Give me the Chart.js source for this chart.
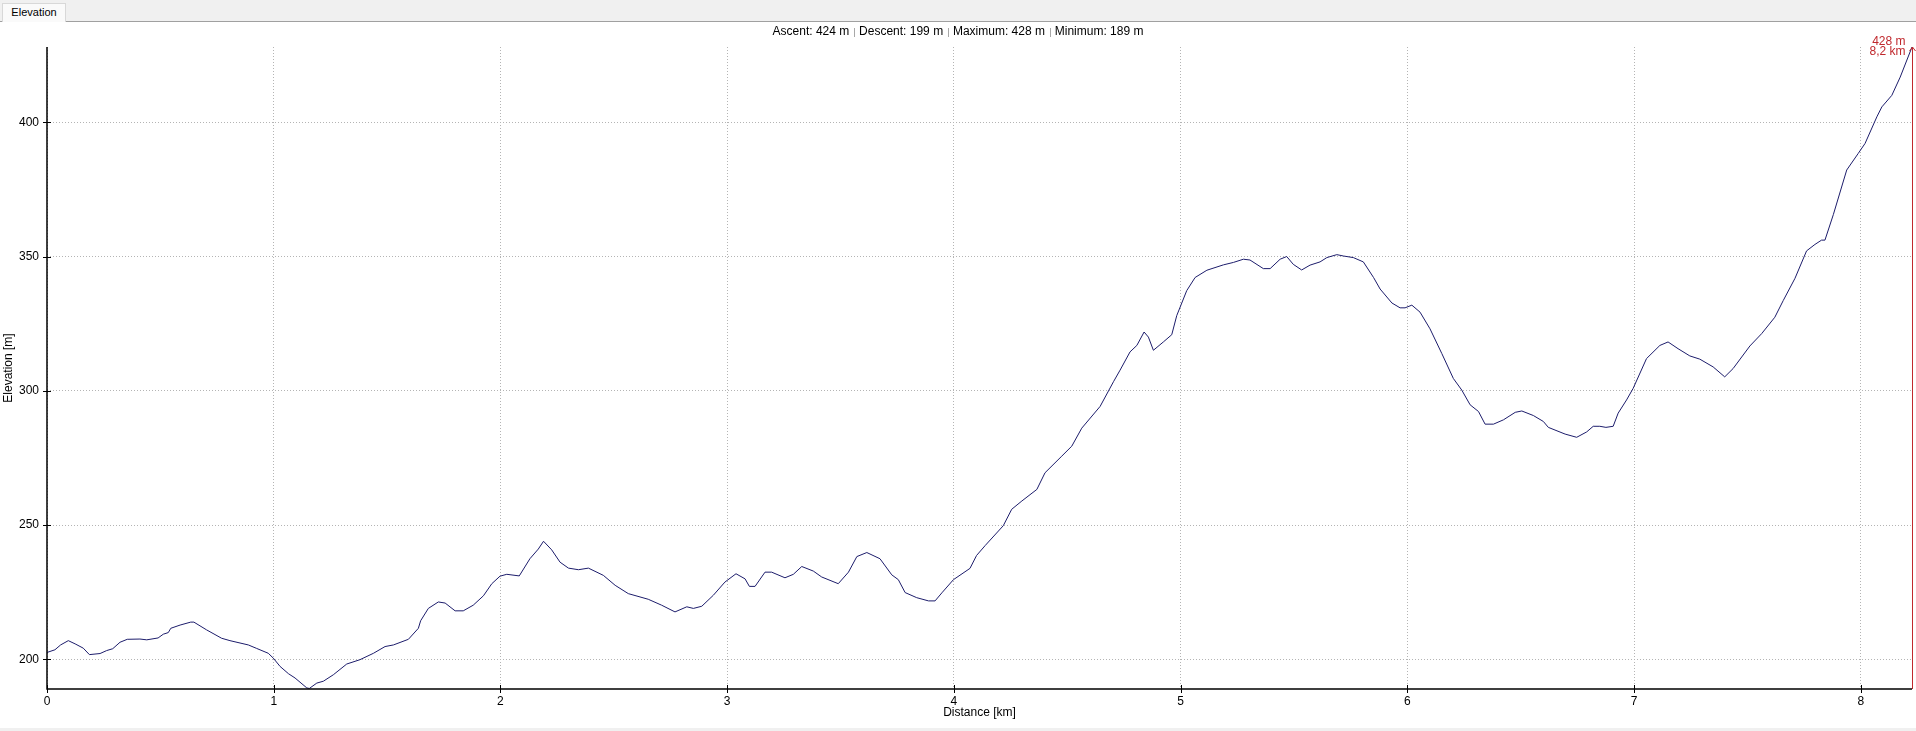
<!DOCTYPE html>
<html>
<head>
<meta charset="utf-8">
<script src="https://cdn.jsdelivr.net/npm/chart.js@4/dist/chart.umd.min.js"></script>
<style>
  html, body { margin: 0; padding: 0; background: #fff; }
  body { width: 1916px; height: 731px; position: relative; overflow: hidden; font-family: "Liberation Sans", Arial, sans-serif; }
  #tabbar { position: absolute; left: 0; top: 0; width: 1916px; height: 21px; background: #f0f0f0; border-bottom: 1px solid #a0a0a0; }
  #tab { position: absolute; left: 2px; top: 3px; width: 64px; height: 19px; background: #fafafa; border: 1px solid #d8d8d8; border-bottom: none; box-sizing: border-box; font-size: 11px; line-height: 17px; text-align: center; color: #000; }
  #wrap { position: absolute; left: 0; top: 22px; width: 1916px; height: 706px; }
  #bottombar { position: absolute; left: 0; top: 728px; width: 1916px; height: 3px; background: #f0f0f0; }
</style>
</head>
<body>
<div id="tabbar"><div id="tab">Elevation</div></div>
<div id="wrap"><canvas id="c"></canvas></div>
<div id="bottombar"></div>
<script>
// ---- data ----
const distanceKm = [
  0.000,0.035,0.060,0.094,0.124,0.160,0.187,0.234,0.263,0.290,0.322,0.354,0.410,0.440,0.490,0.513,0.535,0.546,0.587,0.634,
  0.648,0.704,0.770,0.807,0.888,0.925,0.976,0.998,1.028,1.065,1.094,1.146,1.157,1.190,1.219,1.263,1.322,1.380,1.440,1.491,
  1.528,1.594,1.638,1.648,1.682,1.726,1.756,1.800,1.836,1.880,1.925,1.962,1.998,2.028,2.083,2.130,2.167,2.190,2.226,2.263,
  2.300,2.344,2.388,2.454,2.506,2.564,2.652,2.711,2.770,2.822,2.851,2.888,2.939,2.990,3.039,3.079,3.098,3.123,3.167,3.196,
  3.255,3.292,3.329,3.380,3.417,3.490,3.535,3.572,3.616,3.674,3.726,3.755,3.785,3.836,3.888,3.917,3.947,3.998,4.071,4.100,
  4.138,4.218,4.255,4.300,4.366,4.402,4.476,4.520,4.564,4.645,4.704,4.733,4.777,4.807,4.839,4.858,4.880,4.924,4.961,4.983,
  5.027,5.064,5.116,5.189,5.233,5.277,5.306,5.365,5.395,5.439,5.468,5.497,5.534,5.571,5.615,5.645,5.689,5.718,5.762,5.806,
  5.851,5.880,5.932,5.968,5.990,6.020,6.056,6.100,6.152,6.203,6.240,6.277,6.314,6.343,6.380,6.424,6.476,6.505,6.556,6.600,
  6.622,6.696,6.747,6.791,6.820,6.849,6.876,6.908,6.930,6.967,6.996,7.055,7.114,7.150,7.194,7.246,7.290,7.349,7.400,7.437,
  7.511,7.563,7.621,7.658,7.710,7.761,7.798,7.827,7.842,7.879,7.938,7.989,8.019,8.071,8.093,8.137,8.174,8.226
];
const elevationM = [
  202.6,203.6,205.4,207.0,205.8,204.2,201.8,202.2,203.3,204.0,206.4,207.5,207.6,207.3,208.0,209.4,210.0,211.6,212.8,213.9,
  213.9,211.0,207.9,207.0,205.4,204.1,202.3,200.5,197.4,194.7,193.1,189.4,189.2,191.2,191.9,194.3,198.3,199.9,202.3,204.8,
  205.4,207.5,211.6,214.4,219.0,221.4,221.0,218.1,218.1,220.2,223.7,228.2,231.0,231.7,231.1,237.5,241.1,244.0,240.8,236.2,
  234.0,233.4,234.0,231.3,227.6,224.5,222.4,220.2,217.7,219.6,219.0,219.8,223.9,228.8,231.9,230.0,227.2,227.2,232.5,232.5,
  230.4,231.7,234.6,232.9,230.7,228.2,232.5,238.3,239.8,237.5,231.5,229.7,224.9,223.0,221.8,221.8,224.8,229.7,233.9,238.7,
  242.4,249.8,255.9,259.0,263.3,269.5,275.7,279.4,286.1,294.2,303.4,307.7,314.5,316.9,321.9,320.0,315.1,318.2,320.9,328.0,
  337.3,342.2,344.9,346.9,347.8,349.0,348.7,345.5,345.5,349.0,350.0,347.1,345.0,346.8,348.0,349.6,350.7,350.2,349.6,348.0,
  342.2,337.9,332.7,330.9,330.9,331.9,329.3,323.1,313.9,304.6,300.3,294.8,292.3,287.6,287.6,289.2,292.0,292.5,290.8,288.6,
  286.4,283.9,282.7,284.7,286.8,286.8,286.4,286.8,291.7,296.6,300.9,312.0,316.9,318.2,315.7,313.0,311.8,308.9,305.2,308.3,
  316.7,321.3,327.4,333.6,341.9,352.1,354.5,356.1,356.1,365.6,382.2,388.4,392.1,402.0,405.7,410.0,416.8,428.0
];
const xTickValues = [0, 1, 2, 3, 4, 5, 6, 7, 8];
const yTickValues = [200, 250, 300, 350, 400];
const yRange = [189, 428];
const statsLabels = ['Ascent: 424 m', 'Descent: 199 m', 'Maximum: 428 m', 'Minimum: 189 m'];
const xTitle = 'Distance [km]';
const yTitle = 'Elevation [m]';

// ---- chart ----
const FONT = '"Liberation Sans", Arial, sans-serif';
const points = distanceKm.map((d, i) => ({ x: d, y: elevationM[i] }));
const lastIdx = distanceKm.length - 1;

const statsPlugin = {
  id: 'stats',
  afterDraw(chart) {
    const ctx = chart.ctx;
    ctx.save();
    ctx.font = '12px ' + FONT;
    ctx.textBaseline = 'middle';
    const sep = ' | ';
    let total = 0;
    statsLabels.forEach((s, i) => { total += ctx.measureText(s).width; if (i < statsLabels.length - 1) total += ctx.measureText(sep).width; });
    let x = chart.width / 2 - total / 2;
    const y = 10;
    statsLabels.forEach((s, i) => {
      ctx.fillStyle = '#000';
      ctx.fillText(s, x, y);
      x += ctx.measureText(s).width;
      if (i < statsLabels.length - 1) {
        const w = ctx.measureText(sep).width;
        ctx.strokeStyle = '#a8a8a8';
        ctx.lineWidth = 1;
        ctx.beginPath();
        ctx.moveTo(Math.round(x + w / 2) + 0.5, y - 4);
        ctx.lineTo(Math.round(x + w / 2) + 0.5, y + 5);
        ctx.stroke();
        x += w;
      }
    });
    ctx.restore();
  }
};

const markerPlugin = {
  id: 'marker',
  afterDatasetsDraw(chart) {
    const ctx = chart.ctx;
    const xs = chart.scales.x, ys = chart.scales.y;
    const px = Math.round(xs.getPixelForValue(distanceKm[lastIdx])) + 0.5;
    const py = ys.getPixelForValue(elevationM[lastIdx]);
    const bottom = chart.chartArea.bottom;
    ctx.save();
    ctx.strokeStyle = '#c0282d';
    ctx.lineWidth = 1;
    ctx.beginPath();
    ctx.moveTo(px, py);
    ctx.lineTo(px, bottom);
    ctx.moveTo(px - 3, py + 4);
    ctx.lineTo(px, py);
    ctx.lineTo(px + 3, py + 4);
    ctx.stroke();
    ctx.fillStyle = '#c0282d';
    ctx.font = '12px ' + FONT;
    ctx.textAlign = 'right';
    ctx.textBaseline = 'middle';
    ctx.fillText(Math.round(elevationM[lastIdx]) + ' m', px - 7, py - 5);
    ctx.fillText(distanceKm[lastIdx].toFixed(1).replace('.', ',') + ' km', px - 7, py + 5);
    ctx.restore();
  }
};

// axis lines and ticks that cross the axis
const axesPlugin = {
  id: 'axesLines',
  afterDraw(chart) {
    const ctx = chart.ctx;
    const xs = chart.scales.x, ys = chart.scales.y;
    const a = chart.chartArea;
    ctx.save();
    ctx.setLineDash([]);
    ctx.strokeStyle = '#000';
    ctx.lineWidth = 1.5;
    ctx.beginPath();
    ctx.moveTo(a.left, a.top);
    ctx.lineTo(a.left, a.bottom);
    ctx.lineTo(a.right, a.bottom);
    ctx.stroke();
    ctx.lineWidth = 1;
    ctx.beginPath();
    xTickValues.forEach(v => {
      const p = Math.round(xs.getPixelForValue(v)) + 0.5;
      ctx.moveTo(p, a.bottom + 4); ctx.lineTo(p, a.bottom - 4);
    });
    yTickValues.forEach(v => {
      const p = Math.round(ys.getPixelForValue(v)) + 0.5;
      ctx.moveTo(a.left - 4, p); ctx.lineTo(a.left + 4, p);
    });
    ctx.stroke();
    ctx.restore();
  }
};

new Chart(document.getElementById('c'), {
  type: 'line',
  data: {
    datasets: [{
      data: points,
      borderColor: '#1c1c6b',
      borderWidth: 1,
      pointRadius: 0,
      tension: 0,
      fill: false
    }]
  },
  options: {
    responsive: true,
    maintainAspectRatio: false,
    animation: false,
    layout: { padding: { left: 0, right: 4, top: 25, bottom: 8 } },
    plugins: {
      legend: { display: false },
      tooltip: { enabled: false },
      title: { display: false }
    },
    scales: {
      x: {
        type: 'linear',
        min: 0,
        max: distanceKm[lastIdx],
        afterBuildTicks: s => { s.ticks = xTickValues.map(v => ({ value: v })); },
        afterFit: s => { s.height = 31; },
        border: { display: false, dash: [1, 2] },
        grid: { color: '#b4b4b4', lineWidth: 1, tickColor: 'rgba(0,0,0,0)', tickLength: 4, drawTicks: true },
        ticks: { color: '#000', font: { size: 12, family: FONT }, padding: 1, maxRotation: 0, autoSkip: false },
        title: { display: true, text: xTitle, color: '#000', font: { size: 12, family: FONT }, padding: { top: 0, bottom: 0 } }
      },
      y: {
        type: 'linear',
        min: yRange[0],
        max: yRange[1],
        afterBuildTicks: s => { s.ticks = yTickValues.map(v => ({ value: v })); },
        afterFit: s => { s.width = 47; },
        border: { display: false, dash: [1, 2] },
        grid: { color: '#b4b4b4', lineWidth: 1, tickColor: 'rgba(0,0,0,0)', tickLength: 4, drawTicks: true },
        ticks: { color: '#000', font: { size: 12, family: FONT }, padding: 4, autoSkip: false },
        title: { display: true, text: yTitle, color: '#000', font: { size: 12, family: FONT }, padding: { top: 1, bottom: 0 } }
      }
    }
  },
  plugins: [statsPlugin, markerPlugin, axesPlugin]
});
</script>
</body>
</html>
